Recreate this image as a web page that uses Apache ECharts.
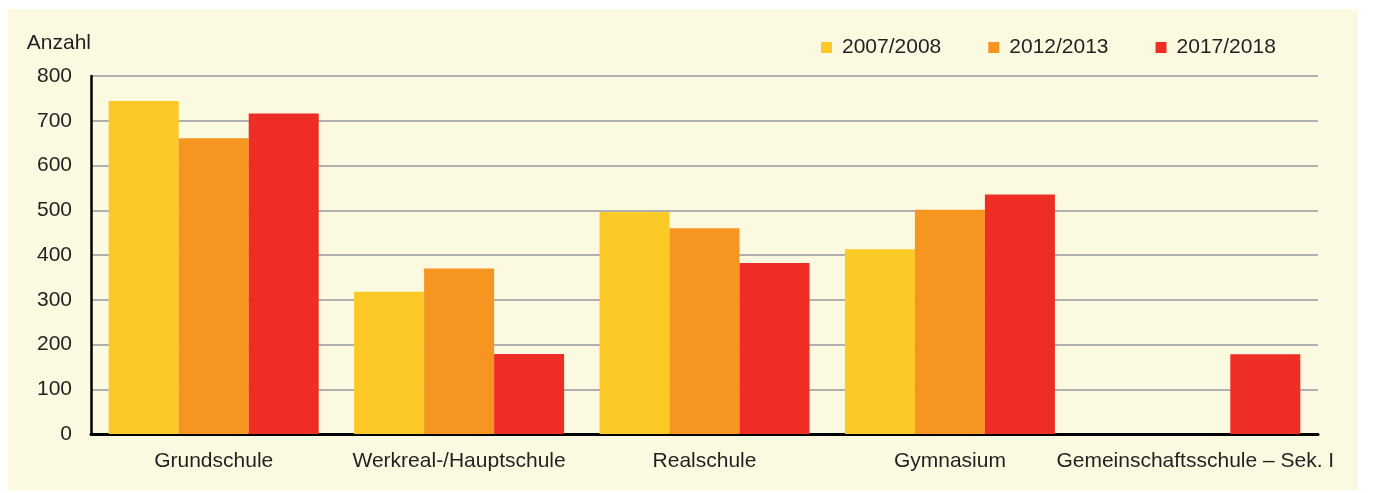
<!DOCTYPE html>
<html>
<head>
<meta charset="utf-8">
<script src="https://cdn.jsdelivr.net/npm/echarts@6/dist/echarts.min.js"></script>
<style>
  html, body { margin: 0; padding: 0; background: #ffffff; }
  #chart { width: 1375px; height: 493px; }
</style>
</head>
<body>
<div id="chart"></div>
<script>
// Schularten
const categories = ['Grundschule', 'Werkreal-/Hauptschule', 'Realschule', 'Gymnasium', 'Gemeinschaftsschule – Sek. I']
const seriesNames = ['2007/2008', '2012/2013', '2017/2018']
const values2007 = [744, 318, 496, 413, null]
const values2012 = [661, 370, 460, 501, null]
const values2017 = [716, 179, 382, 535, 178]
const yTicks = [0, 100, 200, 300, 400, 500, 600, 700, 800]

const colors = ['#fdc926', '#f79521', '#ee2e24']
const textColor = '#231f20'
const font = 'Liberation Sans, Arial, sans-serif'

const echart = echarts.init(document.getElementById('chart'))
const options = {
    animation: false,
    backgroundColor: '#ffffff',
    graphic: [
        {
            type: 'rect',
            z: -10,
            shape: { x: 8, y: 9, width: 1350, height: 481 },
            style: { fill: '#fbf9e0' }
        }
    ],
    legend: {
        data: seriesNames,
        left: 821,
        top: 37,
        padding: 0,
        icon: 'rect',
        itemWidth: 11,
        itemHeight: 11,
        itemGap: 47,
        textStyle: {
            color: textColor,
            fontSize: 21,
            fontFamily: font,
            padding: [0, 0, 0, 5]
        }
    },
    grid: {
        left: 91,
        right: 57,
        top: 76,
        bottom: 59,
        containLabel: false
    },
    xAxis: [
        {
            type: 'category',
            data: categories,
            axisLine: { lineStyle: { color: '#000000', width: 3 } },
            axisTick: { show: false },
            axisLabel: {
                color: textColor,
                fontSize: 21,
                fontFamily: font,
                margin: 17,
                interval: 0
            }
        }
    ],
    yAxis: [
        {
            type: 'value',
            name: 'Anzahl',
            nameLocation: 'end',
            nameGap: 33,
            nameTextStyle: {
                color: textColor,
                fontSize: 21,
                fontFamily: font,
                align: 'right',
                verticalAlign: 'middle'
            },
            min: yTicks[0],
            max: yTicks[yTicks.length - 1],
            interval: 100,
            axisLine: { show: true, lineStyle: { color: '#000000', width: 2.5 } },
            axisTick: { show: false },
            axisLabel: {
                color: textColor,
                fontSize: 21,
                fontFamily: font,
                margin: 19
            },
            splitLine: { lineStyle: { color: '#b0b0b0', width: 2 } }
        }
    ],
    series: [
        {
            name: seriesNames[0],
            type: 'bar',
            barWidth: 70,
            barGap: '0%',
            itemStyle: { color: colors[0] },
            data: values2007
        },
        {
            name: seriesNames[1],
            type: 'bar',
            barWidth: 70,
            barGap: '0%',
            itemStyle: { color: colors[1] },
            data: values2012
        },
        {
            name: seriesNames[2],
            type: 'bar',
            barWidth: 70,
            barGap: '0%',
            itemStyle: { color: colors[2] },
            data: values2017
        }
    ]
}
echart.setOption(options)
</script>
</body>
</html>
